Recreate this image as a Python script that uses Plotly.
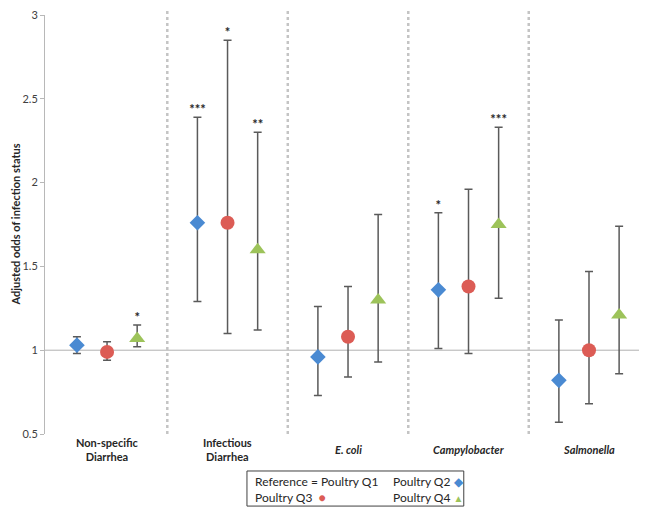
import plotly.graph_objects as go

# ---- data ----
categories = ["Non-specific<br>Diarrhea", "Infectious<br>Diarrhea",
              "<i>E. coli</i>", "<i>Campylobacter</i>", "<i>Salmonella</i>"]

q2_or = [1.03, 1.76, 0.96, 1.36, 0.82]
q2_lo = [0.98, 1.29, 0.73, 1.01, 0.57]
q2_hi = [1.08, 2.39, 1.26, 1.82, 1.18]
q2_sig = ["", "***", "", "*", ""]

q3_or = [0.99, 1.76, 1.08, 1.38, 1.00]
q3_lo = [0.94, 1.10, 0.84, 0.98, 0.68]
q3_hi = [1.05, 2.85, 1.38, 1.96, 1.47]
q3_sig = ["", "*", "", "", ""]

q4_or = [1.07, 1.60, 1.30, 1.75, 1.21]
q4_lo = [1.02, 1.12, 0.93, 1.31, 0.86]
q4_hi = [1.15, 2.30, 1.81, 2.33, 1.74]
q4_sig = ["*", "**", "", "***", ""]

y_ticks = [0.5, 1, 1.5, 2, 2.5, 3]
REF_ODDS = 1

series = [
    ("Poultry Q2", q2_or, q2_lo, q2_hi, q2_sig, "#4A8AD2", "diamond", 12, -0.25),
    ("Poultry Q3", q3_or, q3_lo, q3_hi, q3_sig, "#DC5C55", "circle", 14, 0.0),
    ("Poultry Q4", q4_or, q4_lo, q4_hi, q4_sig, "#9DC35A", "triangle-up", 14, 0.25),
]

FONT = "Lato, 'Open Sans', sans-serif"
TXT = "#262626"

fig = go.Figure()
for name, vals, lo, hi, sig, color, sym, size, off in series:
    xs = [i + off for i in range(len(categories))]
    fig.add_trace(go.Scatter(
        x=xs, y=vals, mode="markers", name=name,
        marker=dict(symbol=sym, size=size, color=color, line=dict(width=0)),
        error_y=dict(type="data", symmetric=False,
                     array=[h - v for h, v in zip(hi, vals)],
                     arrayminus=[v - l for v, l in zip(vals, lo)],
                     color="#5A5A5A", thickness=1.5, width=4),
        showlegend=False, hoverinfo="skip",
    ))
    fig.add_trace(go.Scatter(
        x=xs, y=hi, mode="text", text=["<b>" + s + "</b>" if s else "" for s in sig],
        textposition="top center",
        textfont=dict(family=FONT, size=13, color=TXT),
        showlegend=False, hoverinfo="skip", cliponaxis=False,
    ))

# reference line at odds = 1
fig.add_shape(type="line", xref="paper", x0=0, x1=1, yref="y", y0=REF_ODDS, y1=REF_ODDS,
              line=dict(color="#B0B0B0", width=1), layer="below")

# dotted category separators
for i in range(len(categories) - 1):
    fig.add_shape(type="line", xref="x", x0=i + 0.5, x1=i + 0.5,
                  yref="paper", y0=0, y1=1.012,
                  line=dict(color="#C4C4C4", width=2.5, dash="dot"), layer="below")

# category labels
for i, c in enumerate(categories):
    fig.add_annotation(x=i, xref="x", y=-0.038, yref="paper", text="<b>" + c + "</b>",
                       showarrow=False, yanchor="middle", xanchor="center",
                       font=dict(family=FONT, size=11, color=TXT))

# y-axis title
fig.add_annotation(x=-0.0505, xref="paper", y=0.5, yref="paper",
                   text="<b>Adjusted odds of infection status</b>", textangle=-90,
                   showarrow=False, xanchor="center", yanchor="middle",
                   font=dict(family=FONT, size=11, color=TXT))

# legend box
fig.add_shape(type="rect", xref="paper", yref="paper", x0=0.340, x1=0.705,
              y0=-0.172, y1=-0.0883, line=dict(color="#404040", width=1),
              fillcolor="white")
leg = [
    (0.350, "Reference = Poultry Q1<br>Poultry Q3  <span style='color:#DC5C55'>●</span>"),
    (0.582, "Poultry Q2 <span style='color:#4A8AD2'>◆</span><br>"
            "Poultry Q4 <span style='color:#9DC35A;font-size:10px'>▲</span>"),
]
for x, t in leg:
    fig.add_annotation(x=x, y=-0.1335, xref="paper", yref="paper", text=t, showarrow=False,
                       xanchor="left", yanchor="middle", align="left",
                       font=dict(family=FONT, size=12, color=TXT))

fig.update_layout(
    width=648, height=518,
    margin=dict(l=37, r=17, t=7, b=92, autoexpand=False),
    plot_bgcolor="white", paper_bgcolor="white",
    font=dict(family=FONT, size=11, color=TXT),
    xaxis=dict(range=[-0.515, 4.415], showticklabels=False, showgrid=False,
               zeroline=False, showline=False, ticks="", automargin=False),
    yaxis=dict(range=[0.5, 3], tickvals=y_ticks, ticktext=[str(t) for t in y_ticks],
               showgrid=False, zeroline=False, showline=True, linecolor="#B8B8B8",
               linewidth=1, ticks="outside", ticklen=4, tickcolor="#B8B8B8",
               ticklabeloverflow="allow",
               tickfont=dict(family=FONT, size=11, color="#404040"), automargin=False),
)

fig.write_html("out.html")
